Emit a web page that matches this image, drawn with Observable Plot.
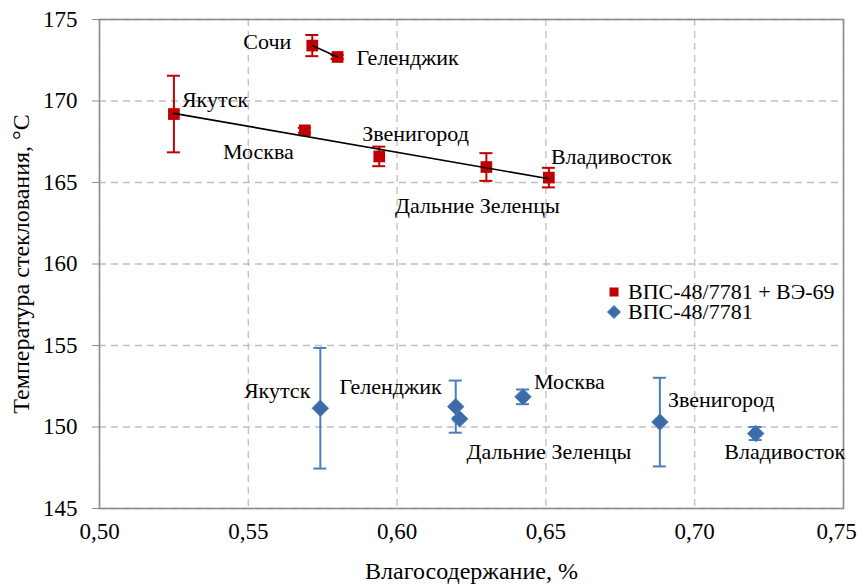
<!DOCTYPE html>
<html>
<head>
<meta charset="utf-8">
<script src="https://cdn.jsdelivr.net/npm/d3@7"></script>
<script src="https://cdn.jsdelivr.net/npm/@observablehq/plot@0.6"></script>
<style>
  body { margin: 0; background: #fff; }
  #wrap { position: relative; width: 857px; height: 584px; }
  #chart svg, #chart svg text { font-family: "Liberation Serif", "Times New Roman", serif !important; }
  #legend { position: absolute; left: 607px; top: 282px; font-family: "Liberation Serif", "Times New Roman", serif; font-size: 22px; color: #000; line-height: 20px; }
  #legend .row { display: flex; align-items: center; white-space: nowrap; height: 20px; }
  #legend span { font-family: "Liberation Serif", "Times New Roman", serif; }
  #legend svg { margin-right: 7px; }
</style>
</head>
<body>
<div id="wrap"><div id="chart"></div><div id="legend"></div></div>
<script>
// ---- data ----
const seriesNames = ["ВПС-48/7781 + ВЭ-69", "ВПС-48/7781"];

const redSites = ["Якутск", "Москва", "Звенигород", "Дальние Зеленцы", "Владивосток", "Сочи", "Геленджик"];
const redX     = [0.525, 0.569, 0.594, 0.630, 0.651, 0.5715, 0.580];
const redY     = [169.2, 168.2, 166.6, 165.95, 165.3, 173.4, 172.7];
const redErr   = [2.35, 0.15, 0.6, 0.85, 0.6, 0.65, 0.12];
const redTrend = ["north", "north", "north", "north", "north", "south", "south"];

const blueSites = ["Якутск", "Геленджик", "Дальние Зеленцы", "Москва", "Звенигород", "Владивосток"];
const blueX     = [0.5742, 0.6197, 0.6210, 0.6423, 0.6883, 0.7205];
const blueY     = [151.15, 151.25, 150.5, 151.85, 150.3, 149.6];
const blueErr   = [3.7, 1.6, 0.1, 0.45, 2.72, 0.4];

const xTicks = [0.50, 0.55, 0.60, 0.65, 0.70, 0.75];
const yTicks = [145, 150, 155, 160, 165, 170, 175];

// ---- label placement (style): [dx, dy, anchor] ----
const redPlace = {
  "Якутск": [8, -14, "start"],
  "Москва": [-11, 22, "end"],
  "Звенигород": [-17, -22, "start"],
  "Дальние Зеленцы": [-9, 39, "middle"],
  "Владивосток": [2, -21, "start"],
  "Сочи": [-21, -4, "end"],
  "Геленджик": [19, 1, "start"]
};
const bluePlace = {
  "Якутск": [-10, -17, "end"],
  "Геленджик": [-14, -20, "end"],
  "Дальние Зеленцы": [7, 33, "start"],
  "Москва": [11, -15, "start"],
  "Звенигород": [8, -22, "start"],
  "Владивосток": [29, 18, "middle"]
};

const RED = "#c00000";
const BLUE = "#4a7ebb";
const BLUE_FILL = "#3d6ba8";
const FONT = '"Liberation Serif", "Times New Roman", serif';

const red = redSites.map((s, i) => ({site: s, x: redX[i], y: redY[i], e: redErr[i], g: redTrend[i]}));
const blue = blueSites.map((s, i) => ({site: s, x: blueX[i], y: blueY[i], e: blueErr[i]}));

const fmt = d => d.toFixed(2).replace(".", ",");

function errMarks(data, color) {
  return [
    Plot.ruleX(data, {x: "x", y1: d => d.y - d.e, y2: d => d.y + d.e, stroke: color, strokeWidth: 2}),
    Plot.ruleY(data, {y: d => d.y + d.e, x1: "x", x2: "x", insetLeft: -6.5, insetRight: -6.5, stroke: color, strokeWidth: 2}),
    Plot.ruleY(data, {y: d => d.y - d.e, x1: "x", x2: "x", insetLeft: -6.5, insetRight: -6.5, stroke: color, strokeWidth: 2})
  ];
}

// individual label marks so dx/dy can vary per point
function labels(data, place) {
  return data.map(d => Plot.text([d], {
    x: "x", y: "y", text: "site",
    dx: place[d.site][0], dy: place[d.site][1], textAnchor: place[d.site][2],
    fill: "#000", fontSize: 22, fontFamily: FONT
  }));
}

const chart = Plot.plot({
  width: 857,
  height: 584,
  marginTop: 19,
  marginBottom: 76,
  marginLeft: 99,
  marginRight: 14,
  style: {fontFamily: FONT, fontSize: "23px", color: "#000", background: "#fff"},
  x: {domain: [0.5, 0.75]},
  y: {domain: [145, 175]},
  marks: [
    Plot.gridX(xTicks, {stroke: "#bfbfbf", strokeOpacity: 1, strokeDasharray: "7,5", strokeWidth: 1.3}),
    Plot.gridY(yTicks, {stroke: "#bfbfbf", strokeOpacity: 1, strokeDasharray: "7,5", strokeWidth: 1.3}),
    Plot.frame({stroke: "#8c8c8c", strokeWidth: 1.6}),
    Plot.axisX(xTicks.slice(0, -1), {tickFormat: fmt, tickSize: 0, tickPadding: 14, fontSize: 23, fontFamily: FONT, label: null}),
    Plot.axisX(xTicks.slice(-1), {tickFormat: fmt, tickSize: 0, tickPadding: 14, fontSize: 23, fontFamily: FONT, label: null, dx: -7}),
    Plot.axisX({ticks: [], label: "Влагосодержание, %", labelAnchor: "center", labelArrow: "none", labelOffset: 70, fontSize: 24, fontFamily: FONT}),
    Plot.axisY(yTicks, {tickSize: 7, tickPadding: 15, fontSize: 23, fontFamily: FONT, stroke: "#8c8c8c", strokeOpacity: 1, label: null}),
    Plot.axisY({ticks: [], label: "Температура стеклования, °С", labelAnchor: "center", labelArrow: "none", labelOffset: 88, fontSize: 24, fontFamily: FONT}),
    ...errMarks(red, RED),
    Plot.dot(red, {x: "x", y: "y", symbol: "square", r: 6.6, fill: RED, stroke: "none"}),
    Plot.linearRegressionY(red, {x: "x", y: "y", z: "g", stroke: "#000", strokeWidth: 1.6, ci: 0}),
    ...errMarks(blue, BLUE),
    Plot.dot(blue, {x: "x", y: "y", symbol: "diamond2", r: 7.4, fill: BLUE_FILL, stroke: BLUE, strokeWidth: 1}),
    ...labels(red, redPlace),
    ...labels(blue, bluePlace)
  ]
});
document.getElementById("chart").appendChild(chart);

// legend
const legend = document.getElementById("legend");
const symbols = [
  `<svg width="14" height="14"><rect x="2.5" y="2.5" width="9" height="9" fill="${RED}"/></svg>`,
  `<svg width="14" height="14"><path d="M7,0.5L13.5,7L7,13.5L0.5,7Z" fill="${BLUE_FILL}" stroke="${BLUE}"/></svg>`
];
seriesNames.forEach((name, i) => {
  const row = document.createElement("div");
  row.className = "row";
  row.innerHTML = symbols[i] + `<span>${name}</span>`;
  legend.appendChild(row);
});
</script>
</body>
</html>
